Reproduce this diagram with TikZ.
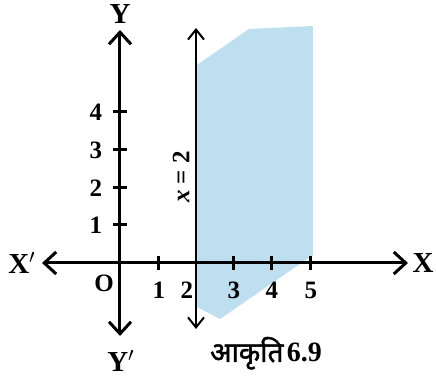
\documentclass[tikz,border=0pt]{standalone}
\usepackage{fontspec}
\setmainfont{Liberation Serif}
\newfontfamily\devfont[Script=Devanagari,FakeBold=1.6]{Noto Sans}
\usetikzlibrary{arrows.meta}
\definecolor{regionblue}{HTML}{BDDFEF}
\tikzset{
  axis/.style={line width=1.5pt,-{Straight Barb[length=6pt,width=11pt,line width=1.5pt]}},
  vline/.style={line width=1pt,{Straight Barb[length=5pt,width=8pt,line width=1pt]}-{Straight Barb[length=5pt,width=8pt,line width=1pt]}},
  tick/.style={line width=1.5pt},
  lab/.style={font=\bfseries\fontsize{12.5}{14}\selectfont,inner sep=0pt},
  axlab/.style={font=\bfseries\fontsize{14.5}{16}\selectfont,inner sep=0pt}
}
\begin{document}
\begin{tikzpicture}[x=0.5pt,y=-0.5pt]
\useasboundingbox (0,0) rectangle (436,385);
% shaded region
\fill[regionblue] (197,65) -- (249,29) -- (313,26) -- (313,255) -- (220,319) -- (197,307) -- cycle;
% coordinates
\coordinate (O) at (120,263);
\coordinate (xr) at (408,263);
\coordinate (xl) at (42,263);
\coordinate (yt) at (120,30);
\coordinate (yb) at (120,336);
\coordinate (lt) at (196,28);
\coordinate (lb) at (196,329);
% axes
\draw[axis] (O) -- (xr);
\draw[axis] (O) -- (xl);
\draw[axis] (O) -- (yt);
\draw[axis] (O) -- (yb);
\draw[vline] (lb) -- (lt);
% x ticks
\foreach \i/\xx in {1/159,3/234,4/272,5/311}{
  \draw[tick] (\xx,256) -- (\xx,270);
  \node[lab] (xt\i) at (\xx,290) {\i};
}
\node[lab] (xt2) at (187,290) {2};
% y ticks
\foreach \i/\yy in {1/225,2/188,3/150,4/112}{
  \draw[tick] (113,\yy) -- (127,\yy);
  \node[lab] (yt\i) at (96,\yy) {\i};
}
\node[lab] (o) at (104,283) {O};
\node[axlab] (X) at (423,263) {X};
\node[axlab] (Xp) at (22,263) {X$'$};
\node[axlab] (Y) at (120,14) {Y};
\node[axlab] (Yp) at (121,361) {Y$'$};
\node[lab,rotate=90] (eq) at (181,177) {\textit{x} = 2};
\node[inner sep=0pt,anchor=base] (cap) at (266,362) {{\devfont\fontsize{14}{16}\selectfont आकृति}\,{\bfseries\fontsize{14}{16}\selectfont 6.9}};
\end{tikzpicture}
\end{document}
